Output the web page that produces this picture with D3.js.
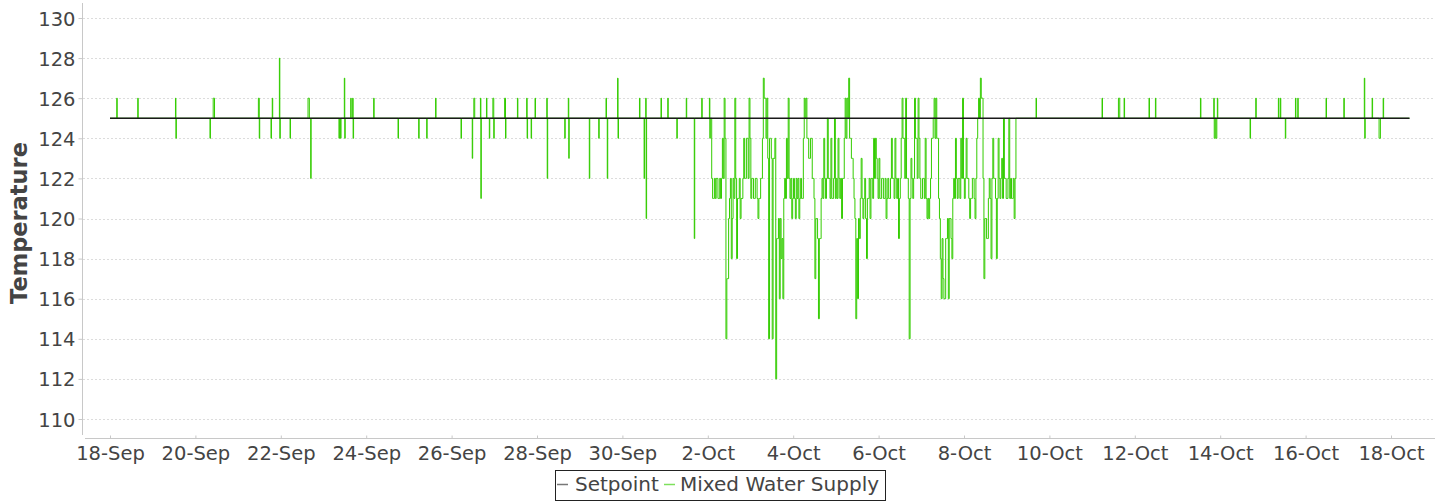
<!DOCTYPE html>
<html><head><meta charset="utf-8">
<script src="https://cdn.jsdelivr.net/npm/d3@7"></script>
<style>
body{margin:0;background:#fff;}
svg{display:block;font-family:"DejaVu Sans",sans-serif;}
</style></head><body>
<svg id="chart" width="1445" height="501"></svg>
<script>
// ---------------- data ----------------
const seriesNames = ["Setpoint", "Mixed Water Supply"];
const setpointValue = 125;
const dataStart = "2017-09-18T00:00:00Z";
const dataEnd = "2017-10-18T10:24:00Z";
const xTickDates = ["2017-09-18","2017-09-20","2017-09-22","2017-09-24","2017-09-26","2017-09-28","2017-09-30",
  "2017-10-02","2017-10-04","2017-10-06","2017-10-08","2017-10-10","2017-10-12","2017-10-14","2017-10-16","2017-10-18"];
const yTickValues = [110,112,114,116,118,120,122,124,126,128,130];
// Sparse excursions of the mixed water supply: [hours after dataStart, consecutive 15-minute readings...]
const excursionsBefore = [
  [3.8,126],[15.6,126],[36.8,126,124],[56.2,124],[58.0,126,126,126],[83.4,126,126,124],[90.5,124],[91.2,126],
  [95.2,128,124],[101.2,124],[111.3,126,126,126],[112.8,122],[128.7,124],[129.6,124],[131.7,127,124],[135.3,126],
  [136.4,126,124],[148.2,126],[161.9,124],[173.5,124],[178.0,124],[183.0,126],[197.3,124],[203.6,123],
  [204.5,126,126],[208.2,126,121],[211.6,126],[213.2,124],[215.2,126,126,124],[221.8,126,126,124],[229.0,126],
  [234.2,126,124],[236.7,124],[238.9,126],[245.5,126,122],[255.6,124],[257.6,126,123],[269.4,122],[274.7,124],
  [278.8,126],[279.5,122],[285.3,127,124],[297.6,126],[300.2,122],[301.1,126,120],[309.7,126],[313.5,126],
  [318.6,124],[323.9,126],[328.4,119],[332.6,126],[336.9,126,124]
];
// Half-hourly readings during the unstable period (Oct 2 - Oct 9)
const denseStartHour = 338.2;
const denseStepHours = 0.5;
const denseReadings = [
  122,121,121,122,121,122,122,121,121,122,121,122,124,122,126,124,114,117,117,120,
  121,122,118,120,122,121,126,122,118,121,121,122,120,121,121,122,124,122,122,124,
  124,122,126,124,121,122,122,121,121,122,122,121,120,121,121,122,122,124,127,126,
  126,124,126,123,114,124,124,123,114,123,123,124,112,119,119,120,116,120,118,119,
  116,121,122,121,124,122,126,122,121,122,120,121,122,121,120,122,121,122,120,121,
  122,121,121,124,126,125,126,124,124,123,123,124,124,122,122,121,117,120,120,119,
  115,119,119,121,122,121,124,122,121,122,125,122,122,121,124,121,121,122,125,121,
  122,121,124,122,121,122,120,122,122,124,126,124,126,125,127,124,124,123,123,122,
  121,120,115,119,116,120,119,121,123,121,120,121,122,120,118,121,121,122,120,122,
  122,121,124,122,124,123,122,121,123,121,121,122,122,121,121,122,120,121,122,121,
  121,122,124,122,122,121,124,122,121,122,119,121,122,124,126,124,124,122,126,122,
  122,121,114,121,123,122,121,122,126,124,124,122,126,124,122,121,121,122,122,121,
  124,121,120,121,120,121,122,124,124,125,126,124,126,124,124,121,120,118,116,119,
  117,116,116,119,119,120,116,120,120,119,118,121,122,121,124,122,121,122,122,121,
  124,122,126,122,121,122,124,122,122,121,120,121,121,122,122,121,120,122,124,125,
  126,125,127,126,126,122,117,120,120,119,119,121,122,121,118,122,124,122,122,121,
  118,121,124,122,121,122,123,121,125,122,122,121,121,122,125,121,122,121,121,122,120,122
];
const excursionsAfter = [
  [520.5,126],[557.6,126],[566.8,126,126,126],[570.0,126],[584.0,126],[587.6,126],[612.9,126],
  [620.4,126,124,124],[621.6,124,124],[622.4,126],[640.8,124],[644.0,126],[656.7,126],[657.8,126],
  [660.6,124],[666.3,126],[667.6,126],[683.5,126],[693.5,126],[705.0,127,124],[709.4,126],
  [713.3,124,124,124],[715.6,126]
];

// ---------------- build readings table ----------------
const t0 = new Date(dataStart).getTime();
const tEnd = new Date(dataEnd).getTime();
const H = 3600e3;
const readings = [{t: new Date(t0), v: setpointValue}];
function addExcursions(list){
  list.forEach(([h, ...vals]) => {
    vals.forEach((v,k) => readings.push({t: new Date(t0 + (h + k*0.25)*H), v}));
    readings.push({t: new Date(t0 + (h + vals.length*0.25)*H), v: setpointValue});
  });
}
addExcursions(excursionsBefore);
denseReadings.forEach((v,i) => readings.push({t: new Date(t0 + (denseStartHour + i*denseStepHours)*H), v}));
readings.push({t: new Date(t0 + (denseStartHour + denseReadings.length*denseStepHours)*H), v: setpointValue});
addExcursions(excursionsAfter);
readings.push({t: new Date(tEnd), v: setpointValue});
readings.sort((a,b)=>a.t-b.t);
const setpointData = [{t:new Date(t0), v:setpointValue},{t:new Date(tEnd), v:setpointValue}];

// ---------------- layout ----------------
const svg = d3.select("#chart");
const plotL = 82, plotR = 1435, plotT = 3, plotB = 438;
const x = d3.scaleUtc().domain([new Date(t0), new Date(tEnd)]).range([110, 1409.5]);
const y = d3.scaleLinear().domain([110,130]).range([419,18]);
const textColor = "#444";
const fontSize = "19.5px";

// gridlines
svg.append("g").selectAll("line").data(yTickValues).join("line")
  .attr("x1", plotL+1).attr("x2", plotR)
  .attr("y1", d=>Math.round(y(d))+0.5).attr("y2", d=>Math.round(y(d))+0.5)
  .attr("stroke", "#dcdcdc").attr("stroke-dasharray","2,2");

// y axis
const yAxis = svg.append("g").attr("transform", `translate(${plotL+0.5},0)`)
  .call(d3.axisLeft(y).tickValues(yTickValues).tickSize(4).tickPadding(3).tickFormat(d3.format("d")));
yAxis.select(".domain").attr("d", `M0,${plotT}V${plotB-3}`).attr("stroke","#c8c8c8");
yAxis.selectAll(".tick line").attr("stroke","#c8c8c8");
yAxis.selectAll(".tick text").attr("fill", textColor).style("font-size", fontSize)
  .style("font-family","DejaVu Sans").attr("dy","0.36em");

// x axis
const xAxis = svg.append("g").attr("transform", `translate(0,${plotB+0.5})`)
  .call(d3.axisBottom(x).tickValues(xTickDates.map(s=>new Date(s+"T00:00:00Z")))
        .tickSize(3).tickPadding(6).tickFormat(d3.utcFormat("%-d-%b")));
xAxis.select(".domain").attr("d", `M${plotL+3},0H${plotR}`).attr("stroke","#c8c8c8");
xAxis.selectAll(".tick line").attr("stroke","#c8c8c8").attr("y1",-3).attr("y2",0);
xAxis.selectAll(".tick text").attr("fill", textColor).style("font-size", fontSize)
  .style("font-family","DejaVu Sans").attr("y", 8).attr("dy","0.71em");

// y title
svg.append("text").attr("transform","translate(26.5,223) rotate(-90)")
  .attr("text-anchor","middle").attr("fill",textColor)
  .style("font-size","22.5px").style("font-weight","bold").text("Temperature");

// series
const line = d3.line().x(d=>x(d.t)).y(d=>y(d.v)).curve(d3.curveStepAfter);
svg.append("path").datum(readings).attr("d", line)
  .attr("fill","none").attr("stroke","#33cc00").attr("stroke-width",1);
svg.append("path").datum(setpointData).attr("d", d3.line().x(d=>x(d.t)).y(d=>y(d.v)))
  .attr("fill","none").attr("stroke","#1a1a1a").attr("stroke-width",1.3);

// legend
const lg = svg.append("g");
lg.append("rect").attr("x",555.5).attr("y",470.5).attr("width",330).attr("height",30)
  .attr("fill","#fff").attr("stroke","#222").attr("stroke-width",1);
const legendItems = [
  {name: seriesNames[0], color:"#777", lx:557, tx:575},
  {name: seriesNames[1], color:"#7ee05c", lx:664, tx:680}
];
legendItems.forEach(it=>{
  lg.append("line").attr("x1",it.lx).attr("x2",it.lx+11).attr("y1",484.5).attr("y2",484.5)
    .attr("stroke",it.color).attr("stroke-width",1.5);
  lg.append("text").attr("x",it.tx).attr("y",490.5).attr("fill",textColor)
    .style("font-size","20px").text(it.name);
});
</script>
</body></html>
